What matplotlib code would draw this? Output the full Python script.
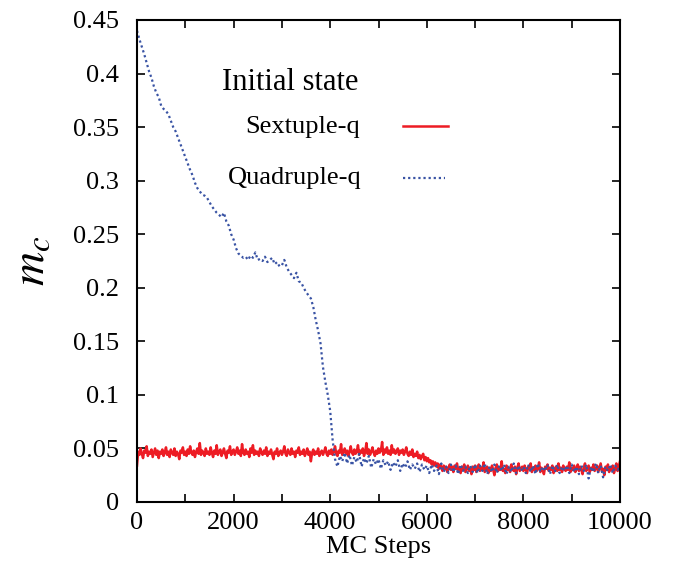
import numpy as np
import matplotlib
matplotlib.use("Agg")
import matplotlib.pyplot as plt
from matplotlib.lines import Line2D
from matplotlib.ticker import MultipleLocator

plt.rcParams['font.family'] = 'serif'
plt.rcParams['font.serif'] = ['Liberation Serif', 'DejaVu Serif']
plt.rcParams['mathtext.fontset'] = 'stix'

# Sextuple-q initial state (every 25 MC steps)
sextuple_steps = np.arange(0, 10001, 25)
sextuple_q = [
    0.034,0.047,0.044,0.050,0.045,0.041,0.048,0.046,0.052,0.043,0.047,0.045,0.049,0.042,0.046,0.050,0.044,0.048,0.041,0.047,
    0.045,0.049,0.043,0.046,0.051,0.044,0.047,0.042,0.049,0.046,0.044,0.050,0.043,0.047,0.045,0.040,0.048,0.046,0.051,0.044,
    0.047,0.043,0.049,0.045,0.052,0.046,0.044,0.048,0.042,0.047,0.050,0.045,0.055,0.044,0.048,0.046,0.043,0.050,0.045,0.047,
    0.044,0.051,0.046,0.042,0.048,0.045,0.053,0.044,0.047,0.049,0.043,0.046,0.050,0.045,0.041,0.048,0.046,0.052,0.044,0.047,
    0.049,0.044,0.047,0.051,0.045,0.048,0.043,0.054,0.046,0.044,0.049,0.045,0.047,0.042,0.050,0.046,0.053,0.044,0.048,0.045,
    0.047,0.043,0.050,0.046,0.044,0.048,0.045,0.051,0.043,0.047,0.045,0.049,0.044,0.040,0.047,0.045,0.050,0.043,0.046,0.048,
    0.044,0.047,0.052,0.045,0.043,0.049,0.046,0.044,0.050,0.045,0.047,0.042,0.048,0.046,0.051,0.044,0.047,0.045,0.049,0.043,
    0.046,0.050,0.044,0.047,0.038,0.046,0.049,0.044,0.047,0.045,0.050,0.043,0.046,0.048,0.044,0.047,0.051,0.045,0.043,0.048,
    0.045,0.049,0.044,0.047,0.052,0.045,0.043,0.048,0.046,0.054,0.044,0.047,0.050,0.045,0.048,0.043,0.047,0.052,0.046,0.044,
    0.049,0.045,0.047,0.053,0.044,0.048,0.046,0.050,0.043,0.047,0.055,0.045,0.049,0.044,0.047,0.051,0.046,0.043,0.048,0.045,
    0.050,0.046,0.048,0.056,0.044,0.049,0.046,0.051,0.045,0.048,0.044,0.053,0.046,0.049,0.045,0.047,0.050,0.044,0.048,0.046,
    0.049,0.044,0.047,0.051,0.045,0.043,0.047,0.044,0.049,0.042,0.045,0.043,0.047,0.041,0.044,0.040,0.043,0.045,0.039,0.042,
    0.038,0.041,0.037,0.039,0.035,0.038,0.034,0.037,0.033,0.036,0.031,0.035,0.033,0.029,0.034,0.031,0.033,0.028,0.032,0.035,
    0.030,0.033,0.028,0.034,0.031,0.036,0.029,0.032,0.027,0.033,0.030,0.035,0.028,0.031,0.034,0.029,0.032,0.026,0.033,0.030,
    0.034,0.028,0.031,0.035,0.029,0.032,0.030,0.037,0.028,0.031,0.033,0.027,0.032,0.029,0.034,0.030,0.025,0.032,0.035,0.029,
    0.032,0.030,0.038,0.029,0.031,0.027,0.034,0.030,0.032,0.028,0.035,0.031,0.029,0.033,0.026,0.032,0.036,0.029,0.031,0.033,
    0.029,0.034,0.030,0.027,0.033,0.031,0.036,0.028,0.032,0.030,0.034,0.029,0.031,0.037,0.028,0.032,0.030,0.026,0.033,0.031,
    0.035,0.029,0.032,0.030,0.034,0.027,0.031,0.033,0.029,0.036,0.030,0.032,0.028,0.034,0.031,0.029,0.033,0.030,0.037,0.028,
    0.032,0.030,0.034,0.028,0.031,0.035,0.029,0.033,0.030,0.026,0.032,0.036,0.029,0.031,0.034,0.028,0.032,0.030,0.035,0.029,
    0.031,0.034,0.028,0.032,0.036,0.029,0.031,0.025,0.033,0.030,0.035,0.028,0.032,0.030,0.034,0.027,0.031,0.036,0.029,0.033,
    0.038,
]

# Quadruple-q initial state (every 50 MC steps)
quadruple_steps = np.arange(0, 10001, 50)
quadruple_q = [
    0.440,0.432,0.425,0.418,0.410,0.402,0.396,0.388,0.382,0.378,0.370,0.367,0.365,0.362,0.356,0.350,0.346,0.340,0.334,0.328,
    0.322,0.316,0.310,0.305,0.298,0.293,0.290,0.287,0.286,0.284,0.280,0.276,0.273,0.270,0.268,0.266,0.270,0.262,0.258,0.250,
    0.245,0.237,0.232,0.230,0.228,0.229,0.226,0.230,0.228,0.233,0.226,0.227,0.225,0.229,0.224,0.226,0.228,0.222,0.224,0.220,
    0.221,0.226,0.219,0.215,0.212,0.209,0.214,0.206,0.205,0.200,0.196,0.193,0.190,0.182,0.170,0.160,0.148,0.126,0.112,0.100,
    0.085,0.058,0.040,0.033,0.043,0.038,0.046,0.036,0.044,0.034,0.042,0.037,0.045,0.033,0.041,0.036,0.043,0.032,0.040,0.035,
    0.040,0.031,0.039,0.034,0.038,0.030,0.037,0.033,0.039,0.029,0.036,0.032,0.038,0.030,0.035,0.031,0.036,0.028,0.035,0.030,
    0.034,0.027,0.035,0.029,0.034,0.026,0.036,0.028,0.033,0.027,0.035,0.028,0.034,0.026,0.035,0.029,0.033,0.027,0.034,0.028,
    0.035,0.027,0.034,0.029,0.036,0.026,0.033,0.028,0.035,0.027,0.034,0.029,0.035,0.026,0.033,0.028,0.036,0.027,0.034,0.029,
    0.033,0.027,0.035,0.028,0.034,0.026,0.036,0.028,0.033,0.029,0.035,0.026,0.034,0.028,0.035,0.027,0.033,0.029,0.034,0.027,
    0.035,0.028,0.033,0.026,0.034,0.029,0.035,0.022,0.033,0.028,0.036,0.027,0.034,0.023,0.033,0.029,0.035,0.027,0.034,0.030,
    0.033,
]

x_ticks = [0, 2000, 4000, 6000, 8000, 10000]
y_ticks = [0, 0.05, 0.1, 0.15, 0.2, 0.25, 0.3, 0.35, 0.4, 0.45]

red = '#ed1c24'
blue = '#3953a4'

fig = plt.figure(figsize=(6.77, 5.75), dpi=100)
ax = fig.add_axes([137/677, 73/575, 483/677, 482/575])

ax.plot(sextuple_steps, sextuple_q, color=red, lw=1.8)
ax.plot(quadruple_steps, quadruple_q, color=blue, lw=1.6, linestyle=(0, (1, 1.3)))

ax.set_xticks(x_ticks)
ax.set_xticklabels([f"{v:g}" for v in x_ticks])
ax.xaxis.set_minor_locator(MultipleLocator(1000))
ax.set_yticks(y_ticks)
ax.set_yticklabels([f"{v:g}" for v in y_ticks])
ax.set_xlim(0, 10000)
ax.set_ylim(0, 0.45)

ax.tick_params(which='both', direction='in', top=True, right=True, length=6, width=1.2)
ax.tick_params(axis='x', pad=7, labelsize=19)
ax.tick_params(axis='y', pad=13, labelsize=19)
for s in ax.spines.values():
    s.set_linewidth(1.5)

ax.set_xlabel('MC Steps', fontsize=19, labelpad=2)
ax.set_ylabel(r'$m_c$', fontsize=34, labelpad=14)

# legend block
ax.text(0.176, 0.871, 'Initial state', transform=ax.transAxes, fontsize=22,
        ha='left', va='center')
ax.text(0.462, 0.778, 'Sextuple-q', transform=ax.transAxes, fontsize=19,
        ha='right', va='center')
ax.text(0.466, 0.672, 'Quadruple-q', transform=ax.transAxes, fontsize=19,
        ha='right', va='center')
ax.add_line(Line2D([0.551, 0.644], [0.780, 0.780], transform=ax.transAxes,
                   color=red, lw=1.8))
ax.add_line(Line2D([0.551, 0.638], [0.672, 0.672], transform=ax.transAxes,
                   color=blue, lw=1.6, linestyle=(0, (1, 1.3))))

fig.savefig('out.png', dpi=100)
